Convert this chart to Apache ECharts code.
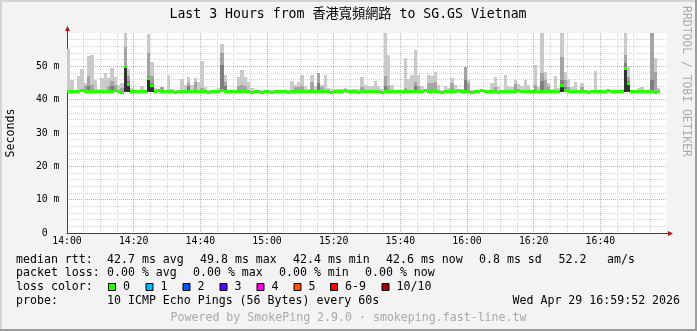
<!DOCTYPE html>
<html><head><meta charset="utf-8">
<script src="https://cdn.jsdelivr.net/npm/echarts@6/dist/echarts.min.js"></script>
<style>html,body{margin:0;padding:0;background:#f3f3f3}#c{width:697px;height:331px}</style>
</head><body><div id="c"></div><script>
// ---------- data ----------
const TITLE = 'Last 3 Hours from 香港寬頻網路 to SG.GS Vietnam';
const TIME_LABELS = ['14:00','14:20','14:40','15:00','15:20','15:40','16:00','16:20','16:40'];
const Y_UNIT = ' m';
// minutes since 14:00, one value per 60 s step (last two steps empty)
const MEDIAN = [
 42.5,42.5,42.5,42.5,42.8,42.5,42.5,42.5,42.5,42.5,
 42.5,42.5,42.5,42.5,42.8,42.5,42.1,49.9,44.5,42.5,
 42.5,42.5,42.5,42.5,46.3,44.3,42.5,42.8,42.5,42.5,
 42.5,42.5,42.1,42.5,42.5,42.5,42.5,42.5,42.5,42.5,
 42.5,42.5,42.1,42.5,42.5,42.5,42.8,42.5,42.5,42.5,
 42.5,42.5,42.5,42.5,42.5,42.1,42.5,42.5,42.1,42.5,
 42.5,42.1,42.5,42.5,42.5,42.5,42.1,42.5,42.5,42.5,
 42.5,42.5,42.5,42.5,42.5,42.5,42.5,42.5,42.5,42.1,
 42.5,42.5,42.5,42.8,42.5,42.5,42.5,42.1,42.5,42.5,
 42.5,42.5,42.5,42.5,42.1,42.5,42.5,42.5,42.5,42.5,
 42.5,42.5,42.5,42.5,42.5,42.5,42.5,42.8,42.5,42.5,
 42.5,42.5,42.1,42.5,42.5,42.5,42.5,42.8,42.5,42.5,
 42.5,42.1,42.5,42.5,42.8,42.5,42.5,42.5,42.5,42.1,
 42.5,42.5,42.5,42.5,42.5,42.8,42.5,42.5,42.5,42.5,
 42.5,42.5,42.5,42.5,42.5,42.5,42.5,42.5,44.4,42.9,
 42.5,42.5,42.5,42.5,42.5,42.5,42.1,42.5,42.5,42.5,
 42.5,42.5,42.8,42.5,42.5,42.5,42.5,49.4,44.9,42.5,
 42.5,42.5,42.5,42.5,42.5,42.5,42.1,42.5,null,null
];
// lowest ping of each step
const PING_MIN = [
 42.3,42.3,42.3,42.3,42.3,42.3,42.3,42.3,42.3,42.3,
 42.3,42.3,42.3,42.3,42.3,42.3,42.3,42.4,42.4,42.3,
 42.3,42.3,42.3,42.3,42.4,42.4,42.3,42.3,42.3,42.3,
 42.3,42.3,42.3,42.3,42.3,42.3,42.3,42.3,42.3,42.3,
 42.3,42.3,42.3,42.3,42.3,42.3,42.3,42.3,42.3,42.3,
 42.3,42.3,42.3,42.3,42.3,42.3,42.3,42.3,42.3,42.3,
 42.3,42.3,42.3,42.3,42.3,42.3,42.3,42.3,42.3,42.3,
 42.3,42.3,42.3,42.3,42.3,42.3,42.3,42.3,42.3,42.3,
 42.3,42.0,42.0,42.0,42.0,42.0,42.0,42.3,42.3,42.3,
 42.3,42.3,42.3,42.3,42.3,42.3,42.3,42.3,42.3,42.3,
 42.3,42.3,42.3,42.3,42.3,42.3,42.3,42.3,42.3,42.3,
 42.3,42.3,42.3,42.3,42.3,42.3,42.3,42.3,42.3,42.3,
 42.3,42.3,42.3,42.3,42.3,42.3,42.3,42.3,42.3,42.3,
 42.3,42.3,42.3,42.3,42.3,42.3,42.3,42.3,42.3,42.3,
 42.3,42.3,42.3,42.3,42.3,42.3,42.3,42.3,42.4,42.3,
 42.3,42.3,42.3,42.3,42.3,42.3,42.3,42.3,42.3,42.3,
 42.3,42.3,42.3,42.3,42.3,42.3,42.3,42.4,42.4,42.3,
 42.3,42.3,42.3,42.3,42.3,42.3,42.3,42.3,null,null
];
// highest ping (outer, lightest smoke)
const SMOKE_1 = [
 55.2,45.9,43.0,47.1,49.2,45.0,53.0,53.3,45.9,43.2,
 46.6,48.1,46.6,49.6,46.7,44.4,45.0,60.0,49.2,43.5,
 43.0,43.0,44.1,43.0,59.8,51.3,43.4,43.2,43.8,43.0,
 47.4,43.2,43.0,43.0,46.2,44.4,46.7,44.4,46.4,45.4,
 51.6,43.9,43.0,43.0,43.0,43.4,56.7,47.4,43.0,43.0,
 43.0,46.9,48.9,46.9,45.4,43.6,43.0,43.0,43.0,43.0,
 43.0,43.0,43.0,43.0,43.0,43.0,43.0,45.7,44.4,45.4,
 47.4,44.1,43.2,47.4,44.0,48.1,44.4,47.4,43.5,43.1,
 43.2,43.2,43.1,43.4,43.2,43.3,43.3,43.3,46.7,44.4,
 44.1,44.1,45.6,44.1,43.2,59.9,53.4,44.4,43.0,43.0,
 43.0,52.6,46.1,47.4,54.9,47.4,44.1,43.0,47.4,47.1,
 48.4,44.4,43.0,44.1,43.4,46.4,44.4,43.3,43.3,49.9,
 45.9,43.0,43.0,43.0,43.0,43.0,43.0,45.1,46.9,43.9,
 43.0,47.4,44.1,43.7,45.9,44.6,44.1,45.9,44.4,43.0,
 50.4,43.8,59.9,48.4,45.0,43.3,47.1,43.5,59.9,48.4,
 46.1,43.9,45.4,43.0,45.1,43.0,43.0,43.0,48.7,43.0,
 43.0,43.0,43.0,43.0,43.0,43.0,43.3,59.9,50.1,43.0,
 43.0,43.4,43.7,43.0,43.0,59.9,52.4,43.5,null,null
];
// inner smoke levels, as [step, value] pairs (steps not listed have none)
const SMOKE_2 = [[5,44.0],[6,47.2],[7,44.3],[12,44.0],[13,45.5],[14,44.5],[16,43.6],[17,55.9],[18,47.0],
 [24,54.0],[25,47.0],[28,43.8],[36,45.0],[38,45.2],[40,43.5],[46,54.0],[47,45.4],[51,44.0],[52,44.5],[53,44.2],
 [68,43.8],[69,43.9],[70,44.0],[73,45.4],[75,48.1],[76,43.8],[88,43.8],[95,47.1],[96,44.0],[101,43.5],
 [104,45.4],[105,44.1],[108,45.0],[109,45.0],[110,45.4],[115,44.9],[119,49.9],[120,44.9],[128,43.7],[134,44.7],
 [140,44.4],[142,47.9],[143,45.9],[144,44.0],[148,52.7],[149,45.9],[150,43.9],[154,43.7],[167,53.4],[168,46.9],
 [175,59.9],[176,48.4]];
const SMOKE_3 = [[6,44.0],[13,44.0],[17,50.0],[18,45.5],[24,47.0],[25,45.0],[36,44.0],[46,50.5],[47,44.0],
 [75,45.0],[95,44.0],[104,44.0],[119,46.0],[142,45.5],[148,46.0],[149,43.8],[167,50.9],[168,45.5],[175,46.0]];
const SMOKE_4 = [[17,50.0],[18,44.5],[24,46.3],[25,44.2],[148,44.5],[149,43.3],[167,49.4],[168,45.0]];

const STAT_TEXT = ['median rtt:','42.7 ms avg','49.8 ms max','42.4 ms min','42.6 ms now','0.8 ms sd','52.2','am/s'];
const LOSS_TEXT = ['packet loss:','0.00 % avg','0.00 % max','0.00 % min','0.00 % now'];
const LOSS_COLOR_LABEL = 'loss color:';
const LOSS_KEYS = ['0','1','2','3','4','5','6-9','10/10'];
const PROBE_TEXT = ['probe:','10 ICMP Echo Pings (56 Bytes) every 60s','Wed Apr 29 16:59:52 2026'];
const FOOTER = 'Powered by SmokePing 2.9.0 · smokeping.fast-line.tw';
const WATERMARK = 'RRDTOOL / TOBI OETIKER';
const Y_NAME = 'Seconds';

// ---------- styles / layout ----------
const LOSS_COLORS = ['#26ff00','#00b8ff','#0059ff','#5e00ff','#ff00ea','#ff5500','#ff0000','#a10000'];
const SHADES = ['#cacaca','#a4a4a4','#7e7e7e','#323232'];
const MONO = '"DejaVu Sans Mono", "Noto Sans CJK TC", monospace';
const MAJOR = '#e89c9c', MINOR = '#d2d2d2', AXIS = '#2c4d43', ARROW = '#b41414';
const MEDIAN_HALF = 0.45;

function dense(pairs, n) { const a = new Array(n).fill(null); pairs.forEach(p => { a[p[0]] = p[1]; }); return a; }
const N = MEDIAN.length;
const S2 = dense(SMOKE_2, N), S3 = dense(SMOKE_3, N), S4 = dense(SMOKE_4, N);
const rows = MEDIAN.map((m, i) => [i, PING_MIN[i], m, SMOKE_1[i], S2[i], S3[i], S4[i]]);

function renderItem(params, api) {
  const i = api.value(0);
  const xa = Math.round(api.coord([i, 0])[0]);
  const xb = Math.round(api.coord([i + 1, 0])[0]);
  const lo = api.value(1);
  const kids = [];
  if (isFinite(lo)) {
    const yLo = Math.round(api.coord([i, lo])[1]);
    for (let k = 0; k < 4; k++) {
      const t = api.value(3 + k);
      if (!isFinite(t) || t <= lo) continue;
      const yT = Math.round(api.coord([i, t])[1]);
      kids.push({type:'rect', shape:{x:xa, y:yT, width:xb - xa, height:yLo - yT}, style:{fill:SHADES[k]}});
    }
  }
  const m = api.value(2);
  if (isFinite(m)) {
    const y1 = Math.round(api.coord([i, m + MEDIAN_HALF])[1]);
    const y2 = Math.round(api.coord([i, m - MEDIAN_HALF])[1]);
    kids.push({type:'rect', shape:{x:xa, y:y1, width:xb - xa, height:Math.max(1, y2 - y1)}, style:{fill:LOSS_COLORS[0]}});
  }
  return {type:'group', children:kids};
}

function txt(id, s, x, y, opt) {
  opt = opt || {};
  return {type:'text', id, x, y, rotation:opt.rot || 0, silent:true, z:10,
    style:{text:s, font:(opt.size || 11.6) + 'px ' + MONO, fill:opt.color || '#000',
      align:opt.align || 'left', verticalAlign:'middle'}};
}

const STAT_X = [16, 107, 200, 293, 386, 479, 558.5, 607];
const LOSS_X = [16, 107, 193, 279, 365];
const BOX_X = [108, 145.5, 182.5, 219.5, 256.5, 293.5, 330, 381.5];
const PROBE_X = [16, 107, 512.5];

const graphics = [
  {type:'rect', id:'bt', shape:{x:0,y:0,width:697,height:2}, style:{fill:'#d4d4d4'}, silent:true, z:20},
  {type:'rect', id:'bl', shape:{x:0,y:0,width:2,height:331}, style:{fill:'#d4d4d4'}, silent:true, z:20},
  {type:'rect', id:'bb', shape:{x:0,y:329,width:697,height:2}, style:{fill:'#9c9c9c'}, silent:true, z:20},
  {type:'rect', id:'br', shape:{x:695,y:0,width:2,height:331}, style:{fill:'#9c9c9c'}, silent:true, z:20},
  txt('title', TITLE, 348, 15, {size:13.2, align:'center'}),
  txt('wm', WATERMARK, 686, 81.5, {size:11.4, align:'center', color:'#ababab', rot:-Math.PI/2}),
  txt('yname', Y_NAME, 11, 133, {size:11.6, align:'center', rot:Math.PI/2}),
  txt('foot', FOOTER, 348.5, 318, {align:'center', color:'#a9a9a9'})
];
STAT_TEXT.forEach((s, k) => graphics.push(txt('st' + k, s, STAT_X[k], 259.5)));
LOSS_TEXT.forEach((s, k) => graphics.push(txt('pl' + k, s, LOSS_X[k], 273)));
graphics.push(txt('lc', LOSS_COLOR_LABEL, 16, 287));
LOSS_KEYS.forEach((s, k) => {
  graphics.push({type:'rect', id:'box' + k, shape:{x:BOX_X[k] + 0.5, y:283.5, width:7, height:7},
    style:{fill:LOSS_COLORS[k], stroke:'#000', lineWidth:1}, silent:true, z:10});
  graphics.push(txt('lk' + k, s, BOX_X[k] + 15, 287));
});
PROBE_TEXT.forEach((s, k) => graphics.push(txt('pr' + k, s, PROBE_X[k], 301)));

const xMajorColors = TIME_LABELS.map(() => MAJOR).concat(['rgba(0,0,0,0)']);
const yMajorColors = [0,1,2,3,4,5].map(() => MAJOR).concat(['rgba(0,0,0,0)']);

const chart = echarts.init(document.getElementById('c'), null, {renderer:'canvas', width:697, height:331});
chart.setOption({
  animation:false,
  backgroundColor:'#f3f3f3',
  grid:{left:67, right:30, top:33, bottom:98, show:true, backgroundColor:'#ffffff', borderWidth:0,
        containLabel:false, outerBoundsMode:'none'},
  xAxis:{type:'value', min:0, max:180, interval:20,
    axisLine:{show:true, onZero:false, lineStyle:{color:AXIS, width:1}},
    axisTick:{show:false},
    axisLabel:{margin:4, fontFamily:MONO, fontSize:9.8, color:'#000', hideOverlap:false,
      formatter:v => TIME_LABELS[Math.round(v / 20)] || ''},
    splitLine:{show:true, lineStyle:{color:xMajorColors, type:[1,1], width:1}},
    minorTick:{show:false, splitNumber:4},
    minorSplitLine:{show:true, lineStyle:{color:MINOR, type:[1,1], width:1}}},
  yAxis:{type:'value', min:0, max:60, interval:10,
    axisLine:{show:true, lineStyle:{color:AXIS, width:1}},
    axisTick:{show:false},
    axisLabel:{margin:7.5, fontFamily:MONO, fontSize:9.8, color:'#000',
      formatter:v => v >= 60 ? '' : (v === 0 ? '0  ' : v + Y_UNIT)},
    splitLine:{show:true, lineStyle:{color:yMajorColors, type:[1,1], width:1}},
    minorTick:{show:false, splitNumber:5},
    minorSplitLine:{show:true, lineStyle:{color:MINOR, type:[1,1], width:1}}},
  series:[{type:'custom', renderItem, data:rows, dimensions:['t','lo','med','s1','s2','s3','s4'],
    encode:{x:0, y:[1,2,3]}, clip:true, silent:true, z:2}],
  graphic:graphics
});

// axis arrows, placed through the grid's own scale
const pO = chart.convertToPixel({gridIndex:0}, [0, 0]);
const pTop = chart.convertToPixel({gridIndex:0}, [0, 60]);
const pRight = chart.convertToPixel({gridIndex:0}, [180, 0]);
const ax = Math.round(pO[0]), ay = Math.round(pO[1]);
const ty = Math.round(pTop[1]), rx = Math.round(pRight[0]);
chart.setOption({graphic:[
  {type:'line', id:'yext', shape:{x1:ax + 0.5, y1:ty, x2:ax + 0.5, y2:ty - 3}, style:{stroke:AXIS, lineWidth:1}, silent:true, z:11},
  {type:'line', id:'xext', shape:{x1:rx, y1:ay + 0.5, x2:rx + 2, y2:ay + 0.5}, style:{stroke:AXIS, lineWidth:1}, silent:true, z:11},
  {type:'polygon', id:'yarr', shape:{points:[[ax - 2, ty - 2], [ax + 3, ty - 2], [ax + 0.5, ty - 7]]}, style:{fill:ARROW}, silent:true, z:12},
  {type:'polygon', id:'xarr', shape:{points:[[rx + 1, ay - 2], [rx + 1, ay + 3], [rx + 6, ay + 0.5]]}, style:{fill:ARROW}, silent:true, z:12}
]});
</script></body></html>
